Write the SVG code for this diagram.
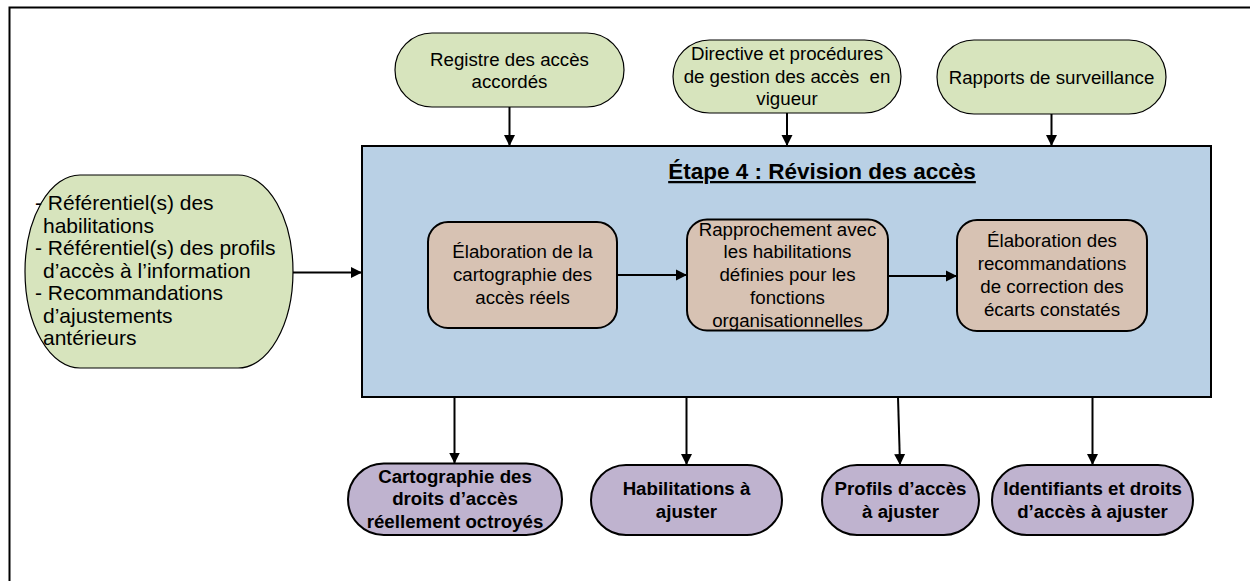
<svg xmlns="http://www.w3.org/2000/svg" width="1250" height="581" viewBox="0 0 1250 581">
  <style>
    text { font-family: "Liberation Sans", Arial, sans-serif; font-size: 18.7px; fill: #000; }
    .c { text-anchor: middle; }
    .b { font-weight: bold; }
    .list { font-size: 21px; }
    .title { font-weight: bold; font-size: 22.5px; text-decoration: underline; text-anchor: middle; }
    .input { fill: #d7e4bd; stroke: #000; stroke-width: 1.2; }
    .output { fill: #bfb3cf; stroke: #000; stroke-width: 2; }
    .step { fill: #d7c2b3; stroke: #000; stroke-width: 2; }
    .stage { fill: #b9d0e5; stroke: #000; stroke-width: 2; }
    .link { fill: none; stroke: #000; stroke-width: 2; marker-end: url(#arrow); }
  </style>
  <defs>
    <marker id="arrow" markerUnits="userSpaceOnUse" markerWidth="12" markerHeight="12" viewBox="0 0 12 12" refX="11" refY="6" orient="auto">
      <path d="M0,0.5 L11,6 L0,11.5 z" fill="#000"/>
    </marker>
  </defs>

  <!-- outer frame -->
  <rect x="9.5" y="7.5" width="1260" height="600" fill="#fff" stroke="#000" stroke-width="2"/>

  <!-- stage container -->
  <g id="stage">
    <rect class="stage" x="362" y="146" width="849" height="251"/>
    <text class="title" x="822" y="179">Étape 4 : Révision des accès</text>
  </g>

  <!-- inputs -->
  <g id="registre">
    <rect class="input" x="395" y="33" width="229" height="74" rx="37" ry="37"/>
    <text class="c" x="509.5" y="65.5">Registre des accès</text>
    <text class="c" x="509.5" y="88">accordés</text>
  </g>
  <g id="directive">
    <rect class="input" x="673" y="40" width="228" height="73" rx="36.5" ry="36.5"/>
    <text class="c" x="787" y="59.5">Directive et procédures</text>
    <text class="c" x="787" y="82.5">de gestion des accès&#160; en</text>
    <text class="c" x="787" y="105">vigueur</text>
  </g>
  <g id="rapports">
    <rect class="input" x="937" y="40" width="229" height="74" rx="37" ry="37"/>
    <text class="c" x="1051.5" y="83.5">Rapports de surveillance</text>
  </g>
  <g id="referentiels">
    <rect class="input" x="25" y="175" width="268" height="193" rx="55" ry="96.5"/>
    <text class="list" x="35" y="210">- Référentiel(s) des</text>
    <text class="list" x="43" y="232.5">habilitations</text>
    <text class="list" x="35" y="255">- Référentiel(s) des profils</text>
    <text class="list" x="43" y="277.5">d’accès à l’information</text>
    <text class="list" x="35" y="300">- Recommandations</text>
    <text class="list" x="43" y="322.5">d’ajustements</text>
    <text class="list" x="43" y="345">antérieurs</text>
  </g>

  <!-- process steps -->
  <g id="cartographie">
    <rect class="step" x="428" y="222" width="189" height="106" rx="20" ry="20"/>
    <text class="c" x="522.5" y="258">Élaboration de la</text>
    <text class="c" x="522.5" y="281">cartographie des</text>
    <text class="c" x="522.5" y="303.5">accès réels</text>
  </g>
  <g id="rapprochement">
    <rect class="step" x="687" y="219.5" width="201" height="111" rx="20" ry="20"/>
    <text class="c" x="787.5" y="235.5">Rapprochement avec</text>
    <text class="c" x="787.5" y="258">les habilitations</text>
    <text class="c" x="787.5" y="281">définies pour les</text>
    <text class="c" x="787.5" y="303.5">fonctions</text>
    <text class="c" x="787.5" y="326.5">organisationnelles</text>
  </g>
  <g id="recommandations">
    <rect class="step" x="957" y="220" width="190" height="111" rx="20" ry="20"/>
    <text class="c" x="1052" y="247">Élaboration des</text>
    <text class="c" x="1052" y="269.5">recommandations</text>
    <text class="c" x="1052" y="292.5">de correction des</text>
    <text class="c" x="1052" y="315.5">écarts constatés</text>
  </g>

  <!-- outputs -->
  <g id="cartographie-droits">
    <rect class="output" x="348" y="463.5" width="214" height="71.5" rx="35.75" ry="35.75"/>
    <text class="c b" x="455" y="483">Cartographie des</text>
    <text class="c b" x="455" y="505">droits d’accès</text>
    <text class="c b" x="455" y="528">réellement octroyés</text>
  </g>
  <g id="habilitations">
    <rect class="output" x="591" y="465" width="191" height="70" rx="35" ry="35"/>
    <text class="c b" x="686.5" y="495">Habilitations à</text>
    <text class="c b" x="686.5" y="517.5">ajuster</text>
  </g>
  <g id="profils">
    <rect class="output" x="822" y="465" width="157" height="70" rx="35" ry="35"/>
    <text class="c b" x="900.5" y="495">Profils d’accès</text>
    <text class="c b" x="900.5" y="517.5">à ajuster</text>
  </g>
  <g id="identifiants">
    <rect class="output" x="992" y="465" width="201" height="70" rx="35" ry="35"/>
    <text class="c b" x="1092.5" y="495">Identifiants et droits</text>
    <text class="c b" x="1092.5" y="517.5">d’accès à ajuster</text>
  </g>

  <!-- connectors -->
  <g id="connectors">
    <line class="link" x1="509.5" y1="107" x2="509.5" y2="146"/>
    <line class="link" x1="787" y1="113" x2="787" y2="146"/>
    <line class="link" x1="1051.5" y1="114" x2="1051.5" y2="146"/>
    <line class="link" x1="293" y1="272.5" x2="362" y2="272.5"/>
    <line class="link" x1="617" y1="275" x2="687" y2="275"/>
    <line class="link" x1="888" y1="276" x2="957" y2="276"/>
    <line class="link" x1="454.5" y1="397" x2="454.5" y2="463.5"/>
    <line class="link" x1="686.5" y1="397" x2="686.5" y2="465"/>
    <line class="link" x1="898" y1="397" x2="900" y2="465"/>
    <line class="link" x1="1092.5" y1="397" x2="1092.5" y2="465"/>
  </g>
</svg>
